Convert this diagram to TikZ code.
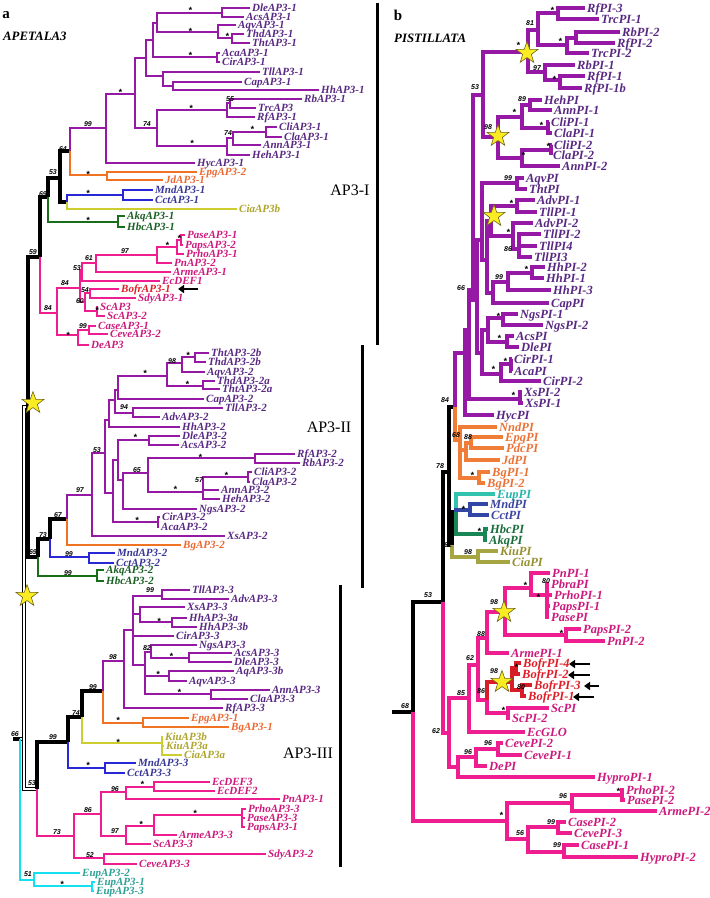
\documentclass[tikz,border=0pt]{standalone}
\usepackage{fontspec}
\setmainfont{Liberation Serif}
\newfontfamily\bsfont{Liberation Sans}
\usetikzlibrary{shapes.geometric,arrows.meta}
\definecolor{cpu}{RGB}{150,25,165}
\definecolor{cpuT}{RGB}{88,40,130}
\definecolor{cor}{RGB}{240,115,35}
\definecolor{corT}{RGB}{235,105,50}
\definecolor{cbl}{RGB}{40,40,215}
\definecolor{cblT}{RGB}{55,55,150}
\definecolor{cye}{RGB}{205,205,45}
\definecolor{cyeT}{RGB}{175,165,45}
\definecolor{cgr}{RGB}{25,110,25}
\definecolor{cgrT}{RGB}{25,95,35}
\definecolor{cpk}{RGB}{238,30,145}
\definecolor{cpkT}{RGB}{205,25,125}
\definecolor{cpkrT}{RGB}{225,30,40}
\definecolor{ccy}{RGB}{20,225,240}
\definecolor{ccyT}{RGB}{45,160,150}
\definecolor{crd}{RGB}{215,30,40}
\definecolor{crdT}{RGB}{225,30,40}
\definecolor{cte}{RGB}{50,195,175}
\definecolor{cteT}{RGB}{40,180,170}
\definecolor{crb}{RGB}{50,70,165}
\definecolor{crbT}{RGB}{60,70,160}
\definecolor{crg}{RGB}{25,135,85}
\definecolor{crgT}{RGB}{25,110,60}
\definecolor{col}{RGB}{165,165,65}
\definecolor{colT}{RGB}{150,145,50}
\definecolor{cro}{RGB}{240,125,55}
\definecolor{croT}{RGB}{235,115,55}
\definecolor{cstar}{RGB}{250,235,35}
\definecolor{cstarO}{RGB}{110,100,20}
\def\lw{2.8pt}\def\lwk{3.4pt}\def\lfs{11}\def\lys{-3.6pt}
\newcommand\lff{\bfseries\itshape\fontsize{\lfs}{\lfs}\selectfont}
\newcommand\Nd[5]{\coordinate (#1) at (#3,-#4); \draw[#5] (#2) |- (#1);}
\newcommand\Lf[6]{\coordinate (#1) at (#3,-#4); \draw[#5] (#2) |- (#1); \node[lab,text=c#5T] (#1t) at (#1) {#6};}
\newcounter{bsc}
\newcommand\bsv[3]{\stepcounter{bsc}\node[bsl] (b\thebsc) at (#1,-#2) {#3};}
\newcommand\stv[2]{\stepcounter{bsc}\node[bsl,yshift=-2pt] (b\thebsc) at (#1,-#2) {\fontsize{9}{9}\selectfont *};}
\begin{document}
\begin{tikzpicture}[x=1pt,y=1pt,
 br/.style={line width=\lw,line join=miter},
 pu/.style={br,draw=cpu}, or/.style={br,draw=cor}, bl/.style={br,draw=cbl},
 ye/.style={br,draw=cye}, gr/.style={br,draw=cgr}, pk/.style={br,draw=cpk},
 pkr/.style={br,draw=cpk}, cy/.style={br,draw=ccy}, rd/.style={br,draw=crd},
 te/.style={br,draw=cte}, rb/.style={br,draw=crb}, rg/.style={br,draw=crg},
 ol/.style={br,draw=col}, ro/.style={br,draw=cro},
 bk/.style={line width=\lwk,draw=black},
 dbl/.style={draw=black,line width=0.9pt,double=white,double distance=1.8pt},
 lab/.style={anchor=base west,inner sep=0pt,xshift=2pt,yshift=\lys,font=\lff},
 bsl/.style={inner sep=0pt,font=\bsfont\bfseries\itshape\fontsize{7}{7}\selectfont},
 strr/.style={star,star points=5,star point ratio=2.5,minimum size=23pt,inner sep=0pt,fill=cstar,draw=cstarO,line width=0.6pt},
 arr/.style={-{Triangle[length=6pt,width=8pt]},line width=2.8pt},
 bar/.style={line width=3pt},
 big/.style={font=\fontsize{16}{16}\selectfont}]
\useasboundingbox (0,0) rectangle (710,-898);
\fill[white] (0,0) rectangle (710,-898);
% ---------------- panel a ----------------
\coordinate (r0) at (13,-739);
\Nd{rt}{r0}{20}{739}{bk}
\Nd{sB}{rt}{24}{739}{dbl}
\Nd{sA}{sB}{28}{407}{dbl}
\Nd{n59}{sA}{40}{257}{bk}
\Nd{n69}{n59}{48}{197}{bk}
\Nd{n53}{n69}{60}{178}{bk}
\Nd{n64}{n53}{70}{151}{bk}
\Nd{n99}{n64}{106}{128}{pu}
\Nd{nSA}{n99}{135}{94}{pu}
\Nd{nU}{nSA}{146}{58}{pu}
\Nd{nV}{nU}{153}{40}{pu}
\Nd{nV1}{nV}{157}{23}{pu}
\Nd{nDA}{nV1}{222}{13}{pu}
\Lf{Dle1}{nDA}{250}{8}{pu}{DleAP3-1}
\Lf{Acs1}{nDA}{244}{17}{pu}{AcsAP3-1}
\Nd{nAq}{nV1}{218}{32}{pu}
\Lf{Aqv1}{nAq}{236}{25}{pu}{AqvAP3-1}
\Nd{nTT}{nAq}{232}{38}{pu}
\Lf{Thd1}{nTT}{244}{34}{pu}{ThdAP3-1}
\Lf{Tht1}{nTT}{250}{43}{pu}{ThtAP3-1}
\Nd{nAC1}{nV}{217}{57}{pu}
\Lf{Aca1}{nAC1}{220}{53}{pu}{AcaAP3-1}
\Lf{Cir1}{nAC1}{220}{62}{pu}{CirAP3-1}
\Nd{nTC}{nU}{163}{76}{pu}
\Lf{Tll1}{nTC}{260}{72}{pu}{TllAP3-1}
\Nd{nCH}{nTC}{173}{86}{pu}
\Lf{Cap1}{nCH}{242}{82}{pu}{CapAP3-1}
\Lf{Hh1}{nCH}{319}{90}{pu}{HhAP3-1}
\Nd{n74a}{nSA}{157}{128}{pu}
\Nd{nRb}{n74a}{227}{110}{pu}
\Nd{n55}{nRb}{230}{103}{pu}
\Lf{Rb1}{n55}{302}{99}{pu}{RbAP3-1}
\Lf{Trc}{n55}{256}{108}{pu}{TrcAP3}
\Lf{Rf1}{nRb}{255}{117}{pu}{RfAP3-1}
\Nd{nCl}{n74a}{227}{146}{pu}
\Nd{nCCA}{nCl}{233}{138}{pu}
\Nd{nCC}{nCCA}{266}{132}{pu}
\Lf{Cli1}{nCC}{277}{127}{pu}{CliAP3-1}
\Lf{Cla1}{nCC}{282}{137}{pu}{ClaAP3-1}
\Lf{Ann1}{nCCA}{261}{145}{pu}{AnnAP3-1}
\Lf{Heh1}{nCl}{250}{155}{pu}{HehAP3-1}
\Lf{Hyc1}{n99}{195}{163}{pu}{HycAP3-1}
\Nd{nEJ}{n64}{107}{175}{or}
\Lf{Epg2}{nEJ}{197}{172}{or}{EpgAP3-2}
\Lf{Jd1}{nEJ}{163}{180}{or}{JdAP3-1}
\Nd{nBY}{n53}{67}{202}{bk}
\Nd{nMC1}{nBY}{123}{195}{bl}
\Lf{Mnd1}{nMC1}{153}{190}{bl}{MndAP3-1}
\Lf{Cct1}{nMC1}{153}{200}{bl}{CctAP3-1}
\Lf{Cia3b}{nBY}{237}{209}{ye}{CiaAP3b}
\Nd{nAH1}{n69}{118}{222}{gr}
\Lf{Akq1}{nAH1}{125}{216}{gr}{AkqAP3-1}
\Lf{Hbc1}{nAH1}{125}{227}{gr}{HbcAP3-1}
\Nd{pR}{n59}{57}{313}{pk}
\Nd{p84}{pR}{80}{288}{pk}
\Nd{p53}{p84}{82}{270}{pk}
\Nd{p61}{p53}{96}{263}{pk}
\Nd{p97}{p61}{157}{255}{pk}
\Nd{pS}{p97}{177}{247}{pk}
\Nd{pPP}{pS}{181}{240}{pk}
\Lf{Pase1}{pPP}{185}{235}{pk}{PaseAP3-1}
\Lf{Paps2}{pPP}{183}{245}{pk}{PapsAP3-2}
\Lf{Prho1}{pS}{184}{254}{pk}{PrhoAP3-1}
\Lf{Pn2}{p97}{172}{263}{pk}{PnAP3-2}
\Lf{Arme1}{p61}{171}{272}{pk}{ArmeAP3-1}
\Lf{EcD1}{p53}{160}{281}{pk}{EcDEF1}
\Nd{p60}{p84}{85}{302}{pk}
\Nd{p54}{p60}{90}{293}{pk}
\Lf{Bofr1}{p54}{119}{289}{pkr}{BofrAP3-1}
\Lf{Sdy1}{p54}{136}{298}{pk}{SdyAP3-1}
\Nd{pSc}{p60}{97}{311}{pk}
\Lf{Sc}{pSc}{98}{307}{pk}{ScAP3}
\Lf{Sc2}{pSc}{105}{316}{pk}{ScAP3-2}
\Nd{pC}{pR}{78}{335}{pk}
\Nd{p99}{pC}{89}{330}{pk}
\Lf{Case1}{p99}{96}{326}{pk}{CaseAP3-1}
\Lf{Ceve2}{p99}{108}{334}{pk}{CeveAP3-2}
\Lf{De}{pC}{89}{345}{pk}{DeAP3}
% AP3-II
\Nd{n69b}{sA}{38}{557}{bk}
\Nd{n73}{n69b}{50}{539}{bk}
\Nd{n67}{n73}{67}{519}{bk}
\Nd{n97}{n67}{92}{495}{pu}
\Nd{n53d}{n97}{105}{453}{pu}
\Nd{nIIb}{n53d}{109}{420}{pu}
\Nd{nIIa}{nIIb}{115}{400}{pu}
\Nd{nCG}{nIIa}{118}{390}{pu}
\Nd{nTh}{nCG}{167}{376}{pu}
\Nd{n98}{nTh}{182}{363}{pu}
\Nd{nThB}{n98}{195}{357}{pu}
\Lf{Tht2b}{nThB}{209}{353}{pu}{ThtAP3-2b}
\Lf{Thd2b}{nThB}{206}{362}{pu}{ThdAP3-2b}
\Lf{Aqv2}{n98}{205}{372}{pu}{AqvAP3-2}
\Nd{nThA}{nTh}{203}{386}{pu}
\Lf{Thd2a}{nThA}{215}{381}{pu}{ThdAP3-2a}
\Lf{Tht2a}{nThA}{220}{389}{pu}{ThtAP3-2a}
\Lf{Cap2}{nCG}{204}{399}{pu}{CapAP3-2}
\Nd{n94}{nIIa}{133}{413}{pu}
\Lf{Tll2}{n94}{223}{408}{pu}{TllAP3-2}
\Lf{Adv2}{n94}{160}{417}{pu}{AdvAP3-2}
\Lf{Hh2}{nIIb}{180}{427}{pu}{HhAP3-2}
\Nd{nLo}{n53d}{113}{493}{pu}
\Nd{nMid}{nLo}{118}{460}{pu}
\Nd{nDA2}{nMid}{149}{440}{pu}
\Lf{Dle2}{nDA2}{180}{436}{pu}{DleAP3-2}
\Lf{Acs2}{nDA2}{179}{445}{pu}{AcsAP3-2}
\Nd{n123}{nMid}{123}{480}{pu}
\Nd{n65}{n123}{148}{473}{pu}
\Nd{nRR}{n65}{255}{458}{pu}
\Lf{Rf2}{nRR}{295}{454}{pu}{RfAP3-2}
\Lf{Rb2}{nRR}{300}{463}{pu}{RbAP3-2}
\Nd{n57}{n65}{203}{492}{pu}
\Nd{nCC2}{n57}{248}{477}{pu}
\Lf{Cli2}{nCC2}{252}{472}{pu}{CliAP3-2}
\Lf{Cla2}{nCC2}{250}{482}{pu}{ClaAP3-2}
\Lf{Ann2}{n57}{219}{490}{pu}{AnnAP3-2}
\Lf{Heh2}{n57}{220}{499}{pu}{HehAP3-2}
\Lf{Ngs2}{n123}{197}{509}{pu}{NgsAP3-2}
\Nd{nCA2}{nLo}{158}{522}{pu}
\Lf{Cir2}{nCA2}{160}{517}{pu}{CirAP3-2}
\Lf{Aca2}{nCA2}{159}{527}{pu}{AcaAP3-2}
\Lf{Xs2}{n97}{225}{536}{pu}{XsAP3-2}
\Lf{Bg2}{n67}{181}{545}{or}{BgAP3-2}
\Nd{nMC2}{n73}{89}{557}{bl}
\Lf{Mnd2}{nMC2}{115}{553}{bl}{MndAP3-2}
\Lf{Cct2}{nMC2}{114}{563}{bl}{CctAP3-2}
\Nd{nAH2}{n69b}{97}{576}{gr}
\Lf{Akq2}{nAH2}{104}{570}{gr}{AkqAP3-2}
\Lf{Hbc2}{nAH2}{104}{581}{gr}{HbcAP3-2}
% AP3-III
\Nd{n53c}{sB}{37}{789}{dbl}
\Nd{n99e}{n53c}{68}{742}{bk}
\Nd{n74}{n99e}{82}{717}{bk}
\Nd{n99d}{n74}{103}{691}{bk}
\Nd{n98c}{n99d}{124}{661}{pu}
\Nd{nA3}{n98c}{133}{630}{pu}
\Nd{n99c}{nA3}{162}{596}{pu}
\Lf{Tll3}{n99c}{190}{590}{pu}{TllAP3-3}
\Lf{Adv3}{n99c}{229}{599}{pu}{AdvAP3-3}
\Nd{nXH}{nA3}{140}{614}{pu}
\Lf{Xs3}{nXH}{185}{607}{pu}{XsAP3-3}
\Nd{nHh3}{nXH}{172}{622}{pu}
\Lf{Hh3a}{nHh3}{187}{618}{pu}{HhAP3-3a}
\Lf{Hh3b}{nHh3}{197}{627}{pu}{HhAP3-3b}
\Lf{Cir3}{nA3}{174}{636}{pu}{CirAP3-3}
\Nd{nD3}{nA3}{145}{665}{pu}
\Nd{n82}{nD3}{151}{652}{pu}
\Lf{Ngs3}{n82}{197}{645}{pu}{NgsAP3-3}
\Nd{nAD3}{n82}{189}{658}{pu}
\Lf{Acs3}{nAD3}{232}{653}{pu}{AcsAP3-3}
\Lf{Dle3}{nAD3}{232}{662}{pu}{DleAP3-3}
\Nd{nAq3}{nD3}{169}{676}{pu}
\Lf{Aq3b}{nAq3}{234}{671}{pu}{AqAP3-3b}
\Lf{Aqv3}{nAq3}{187}{681}{pu}{AqvAP3-3}
\Nd{nAC3}{nD3}{211}{694}{pu}
\Lf{Ann3}{nAC3}{270}{690}{pu}{AnnAP3-3}
\Lf{Cla3}{nAC3}{248}{699}{pu}{ClaAP3-3}
\Lf{Rf3}{n98c}{223}{708}{pu}{RfAP3-3}
\Nd{nEB}{n99d}{143}{723}{or}
\Lf{Epg1}{nEB}{189}{718}{or}{EpgAP3-1}
\Lf{Bg1}{nEB}{229}{727}{or}{BgAP3-1}
\Nd{nKiu}{n74}{162}{743}{ye}
\Lf{Kiu3b}{nKiu}{163}{737}{ye}{KiuAP3b}
\Lf{Kiu3a}{nKiu}{164}{746}{ye}{KiuAP3a}
\Lf{Cia3a}{nKiu}{182}{755}{ye}{CiaAP3a}
\Nd{nMC3}{n99e}{105}{768}{bl}
\Lf{Mnd3}{nMC3}{136}{763}{bl}{MndAP3-3}
\Lf{Cct3}{nMC3}{125}{773}{bl}{CctAP3-3}
\Nd{n73c}{n53c}{74}{836}{pk}
\Nd{n86}{n73c}{101}{814}{pk}
\Nd{n96}{n86}{126}{792}{pk}
\Nd{nEc}{n96}{154}{787}{pk}
\Lf{EcD3}{nEc}{210}{782}{pk}{EcDEF3}
\Lf{EcD2}{nEc}{215}{791}{pk}{EcDEF2}
\Lf{Pn1}{n96}{280}{799}{pk}{PnAP3-1}
\Nd{n97b}{n86}{126}{836}{pk}
\Nd{nSt}{n97b}{154}{826}{pk}
\Nd{nPr}{nSt}{242}{815}{pk}
\Lf{Prho3}{nPr}{246}{809}{pk}{PrhoAP3-3}
\Lf{Pase3}{nPr}{245}{818}{pk}{PaseAP3-3}
\Lf{Paps1}{nPr}{245}{827}{pk}{PapsAP3-1}
\Lf{Arme3}{nSt}{177}{835}{pk}{ArmeAP3-3}
\Lf{Sc3}{n97b}{151}{844}{pk}{ScAP3-3}
\Nd{n52}{n73c}{104}{858}{pk}
\Lf{Sdy2}{n52}{266}{854}{pk}{SdyAP3-2}
\Lf{Ceve3}{n52}{137}{864}{pk}{CeveAP3-3}
\Nd{nE51}{rt}{34}{880}{cy}
\Lf{Eup2}{nE51}{80}{873}{cy}{EupAP3-2}
\Nd{nE13}{nE51}{92}{886}{cy}
\Lf{Eup1}{nE13}{95}{882}{cy}{EupAP3-1}
\Lf{Eup3}{nE13}{94}{891}{cy}{EupAP3-3}
% ---------------- panel b ----------------
\def\lw{3.3pt}\def\lwk{4.2pt}\def\lfs{12.5}\def\lys{-4.1pt}
\coordinate (Rr0) at (392,-712);
\Nd{Rrt}{Rr0}{413}{712}{bk}
\Nd{R53}{Rrt}{443}{602}{bk}
\Nd{R78}{R53}{449}{472}{bk}
\Nd{R84}{R78}{455}{407}{bk}
\Nd{R66}{R84}{465}{353}{pu}
\Nd{RA2}{R66}{469}{330}{pu}
\Nd{RA}{RA2}{473}{290}{pu}
\Nd{R53p}{RA}{483}{95}{pu}
\Nd{RSt}{R53p}{528}{52}{pu}
\Nd{R81}{RSt}{538}{30}{pu}
\Nd{RR1}{R81}{558}{13}{pu}
\Lf{RRf3}{RR1}{585}{8}{pu}{RfPI-3}
\Lf{RTrc1}{RR1}{599}{19}{pu}{TrcPI-1}
\Nd{RR3}{R81}{567}{45}{pu}
\Nd{RR2}{RR3}{576}{38}{pu}
\Lf{RRb2}{RR2}{620}{32}{pu}{RbPI-2}
\Lf{RRf2}{RR2}{615}{43}{pu}{RfPI-2}
\Lf{RTrc2}{RR3}{589}{53}{pu}{TrcPI-2}
\Nd{R97}{RSt}{545}{72}{pu}
\Lf{RRb1}{R97}{575}{65}{pu}{RbPI-1}
\Nd{RR4}{R97}{560}{80}{pu}
\Lf{RRf1}{RR4}{585}{76}{pu}{RfPI-1}
\Lf{RRf1b}{RR4}{582}{88}{pu}{RfPI-1b}
\Nd{RAn}{R53p}{498}{137}{pu}
\Nd{RUp}{RAn}{522}{117}{pu}
\Nd{R89}{RUp}{530}{105}{pu}
\Lf{RHeh}{R89}{542}{100}{pu}{HehPI}
\Lf{RAnn1}{R89}{552}{110}{pu}{AnnPI-1}
\Nd{RC1}{RUp}{548}{128}{pu}
\Lf{RCli1}{RC1}{549}{122}{pu}{CliPI-1}
\Lf{RCla1}{RC1}{552}{133}{pu}{ClaPI-1}
\Nd{RLo}{RAn}{522}{158}{pu}
\Nd{RC2}{RLo}{551}{150}{pu}
\Lf{RCli2}{RC2}{552}{145}{pu}{CliPI-2}
\Lf{RCla2}{RC2}{551}{155}{pu}{ClaPI-2}
\Lf{RAnn2}{RLo}{560}{166}{pu}{AnnPI-2}
\Nd{RC}{RA}{477}{300}{pu}
\Nd{RD}{RC}{482}{240}{pu}
\Nd{R99A}{RD}{517}{183}{pu}
\Lf{RAqv}{R99A}{524}{178}{pu}{AqvPI}
\Lf{RTht}{R99A}{527}{189}{pu}{ThtPI}
\Nd{RF}{RD}{487}{260}{pu}
\Nd{RAdvT}{RF}{491}{221}{pu}
\Nd{RAT1}{RAdvT}{517}{206}{pu}
\Lf{RAdv1}{RAT1}{535}{200}{pu}{AdvPI-1}
\Lf{RTll1}{RAT1}{537}{212}{pu}{TllPI-1}
\Nd{RAd2}{RAdvT}{513}{236}{pu}
\Lf{RAdv2}{RAd2}{533}{223}{pu}{AdvPI-2}
\Nd{R86}{RAd2}{519}{249}{pu}
\Lf{RTll2}{R86}{541}{234}{pu}{TllPI-2}
\Lf{RTll4}{R86}{537}{246}{pu}{TllPI4}
\Lf{RTll3}{R86}{532}{257}{pu}{TllPI3}
\Nd{RHC}{RF}{493}{293}{pu}
\Nd{R99B}{RHC}{508}{282}{pu}
\Nd{RHh12}{R99B}{532}{273}{pu}
\Lf{RHh2}{RHh12}{545}{267}{pu}{HhPI-2}
\Lf{RHh1}{RHh12}{544}{278}{pu}{HhPI-1}
\Lf{RHh3}{R99B}{551}{290}{pu}{HhPI-3}
\Lf{RCap}{RHC}{549}{303}{pu}{CapPI}
\Nd{RG}{RC}{482}{353}{pu}
\Nd{RND}{RG}{488}{330}{pu}
\Nd{RNg}{RND}{503}{318}{pu}
\Lf{RNgs1}{RNg}{518}{314}{pu}{NgsPI-1}
\Lf{RNgs2}{RNg}{543}{325}{pu}{NgsPI-2}
\Nd{RAD}{RND}{507}{342}{pu}
\Lf{RAcs}{RAD}{514}{336}{pu}{AcsPI}
\Lf{RDle}{RAD}{519}{347}{pu}{DlePI}
\Nd{RCir}{RG}{501}{374}{pu}
\Nd{RCA}{RCir}{511}{364}{pu}
\Lf{RCir1}{RCA}{512}{359}{pu}{CirPI-1}
\Lf{RAca}{RCA}{512}{371}{pu}{AcaPI}
\Lf{RCir2}{RCir}{541}{381}{pu}{CirPI-2}
\Nd{RXs}{RA2}{520}{399}{pu}
\Lf{RXs2}{RXs}{522}{392}{pu}{XsPI-2}
\Lf{RXs1}{RXs}{523}{403}{pu}{XsPI-1}
\Lf{RHyc}{R66}{494}{415}{pu}{HycPI}
\Nd{ROr}{R84}{460}{440}{ro}
\Lf{RNnd}{ROr}{497}{427}{ro}{NndPI}
\Nd{R68}{ROr}{466}{450}{ro}
\Nd{R88}{R68}{471}{443}{ro}
\Lf{REpg}{R88}{503}{437}{ro}{EpgPI}
\Lf{RPdc}{R88}{504}{448}{ro}{PdcPI}
\Lf{RJd}{R68}{500}{460}{ro}{JdPI}
\Nd{RBg}{ROr}{479}{478}{ro}
\Lf{RBg1}{RBg}{490}{472}{ro}{BgPI-1}
\Lf{RBg2}{RBg}{485}{483}{ro}{BgPI-2}
\Nd{R62}{R78}{452}{545}{bk}
\Nd{RTBG}{R62}{456}{512}{bk}
\Lf{REup}{RTBG}{495}{494}{te}{EupPI}
\Nd{RMC}{RTBG}{470}{510}{rb}
\Lf{RMnd}{RMC}{488}{504}{rb}{MndPI}
\Lf{RCct}{RMC}{489}{515}{rb}{CctPI}
\Nd{RHA}{RTBG}{485}{534}{rg}
\Lf{RHbc}{RHA}{488}{529}{rg}{HbcPI}
\Lf{RAkq}{RHA}{487}{540}{rg}{AkqPI}
\Nd{RKC}{R62}{478}{557}{ol}
\Lf{RKiu}{RKC}{498}{551}{ol}{KiuPI}
\Lf{RCia}{RKC}{510}{562}{ol}{CiaPI}
\Nd{RP62}{R53}{449}{733}{pk}
\Nd{R85}{RP62}{469}{698}{pk}
\Nd{R62p}{R85}{478}{665}{pk}
\Nd{R88p}{R62p}{487}{638}{pk}
\Nd{R98s}{R88p}{505}{612}{pk}
\Nd{RPn}{R98s}{531}{588}{pk}
\Lf{RPn1}{RPn}{550}{573}{pk}{PnPI-1}
\Nd{RPb}{RPn}{547}{595}{pk}
\Lf{RPbra}{RPb}{549}{584}{pk}{PbraPI}
\Lf{RPrho1}{RPb}{552}{595}{pk}{PrhoPI-1}
\Lf{RPaps1}{RPb}{550}{606}{pk}{PapsPI-1}
\Lf{RPase}{RPb}{549}{617}{pk}{PasePI}
\Nd{RPP2}{R98s}{566}{635}{pk}
\Lf{RPaps2}{RPP2}{581}{629}{pk}{PapsPI-2}
\Lf{RPn2}{RPP2}{605}{641}{pk}{PnPI-2}
\Lf{RArme1}{R88p}{509}{653}{pk}{ArmePI-1}
\Nd{R86p}{R62p}{487}{700}{pk}
\Nd{RBof}{R86p}{512}{682}{rd}
\Nd{RB42}{RBof}{516}{668}{rd}
\Lf{RBofr4}{RB42}{521}{663}{rd}{BofrPI-4}
\Lf{RBofr2}{RB42}{520}{674}{rd}{BofrPI-2}
\Nd{RB31}{RBof}{522}{690}{rd}
\Lf{RBofr3}{RB31}{532}{685}{rd}{BofrPI-3}
\Lf{RBofr1}{RB31}{526}{696}{rd}{BofrPI-1}
\Nd{RSc}{R86p}{508}{713}{pk}
\Lf{RScPI}{RSc}{549}{708}{pk}{ScPI}
\Lf{RSc2}{RSc}{510}{718}{pk}{ScPI-2}
\Lf{REc}{R85}{525}{732}{pk}{EcGLO}
\Nd{RCev}{RP62}{458}{767}{pk}
\Nd{R96b}{RCev}{476}{757}{pk}
\Nd{R96a}{R96b}{498}{749}{pk}
\Lf{RCeve2}{R96a}{503}{743}{pk}{CevePI-2}
\Lf{RCeve1}{R96a}{522}{755}{pk}{CevePI-1}
\Lf{RDe}{R96b}{487}{766}{pk}{DePI}
\Lf{RHy1}{RCev}{595}{777}{pk}{HyproPI-1}
\Nd{RSB}{Rrt}{507}{821}{pk}
\Nd{R96c}{RSB}{572}{803}{pk}
\Nd{RPP}{R96c}{622}{795}{pk}
\Lf{RPrho2}{RPP}{624}{790}{pk}{PrhoPI-2}
\Lf{RPase2}{RPP}{625}{800}{pk}{PasePI-2}
\Lf{RArme2}{R96c}{657}{811}{pk}{ArmePI-2}
\Nd{R56}{RSB}{528}{839}{pk}
\Nd{R99a}{R56}{558}{827}{pk}
\Lf{RCase2}{R99a}{566}{822}{pk}{CasePI-2}
\Lf{RCeve3}{R99a}{572}{833}{pk}{CevePI-3}
\Nd{R99b}{R56}{564}{852}{pk}
\Lf{RCase1}{R99b}{579}{845}{pk}{CasePI-1}
\Lf{RHy2}{R99b}{638}{857}{pk}{HyproPI-2}
% ---------------- stars ----------------
\node[strr] (s1) at (33,-403) {};
\node[strr] (s2) at (27,-596) {};
\node[strr] (s3) at (527,-53) {};
\node[strr] (s4) at (498,-136) {};
\node[strr] (s5) at (494,-216) {};
\node[strr] (s6) at (504,-612) {};
\node[strr] (s7) at (502,-682) {};
% ---------------- arrows ----------------
\coordinate (a0s) at (198,-289); \coordinate (a0e) at (178,-289);
\coordinate (a1s) at (590,-664); \coordinate (a1e) at (569,-664);
\coordinate (a2s) at (590,-675); \coordinate (a2e) at (568,-675);
\coordinate (a3s) at (599,-686); \coordinate (a3e) at (584,-686);
\coordinate (a4s) at (594,-697); \coordinate (a4e) at (573,-697);
\draw[arr] (a0s) -- (a0e);
\draw[arr] (a1s) -- (a1e);
\draw[arr] (a2s) -- (a2e);
\draw[arr] (a3s) -- (a3e);
\draw[arr] (a4s) -- (a4e);
% ---------------- bars and group labels ----------------
\coordinate (k1a) at (377,-3); \coordinate (k1b) at (377,-345);
\coordinate (k2a) at (362,-345); \coordinate (k2b) at (362,-588);
\coordinate (k3a) at (340,-585); \coordinate (k3b) at (340,-867);
\draw[bar] (k1a) -- (k1b);
\draw[bar] (k2a) -- (k2b);
\draw[bar] (k3a) -- (k3b);
\node[big] (g1) at (350,-190) {AP3-I};
\node[big] (g2) at (329,-427) {AP3-II};
\node[big] (g3) at (308,-753) {AP3-III};
\node[font=\bfseries\fontsize{15}{15}\selectfont,inner sep=0pt] (pa) at (6,-15) {a};
\node[font=\bfseries\fontsize{15}{15}\selectfont,inner sep=0pt] (pb) at (398,-15) {b};
\node[anchor=west,inner sep=0pt,font=\bfseries\itshape\fontsize{12.8}{12.8}\selectfont] (ta) at (3,-36) {APETALA3};
\node[anchor=west,inner sep=0pt,font=\bfseries\itshape\fontsize{12.8}{12.8}\selectfont] (tb) at (394,-38) {PISTILLATA};
% ---------------- support values, panel a ----------------
\stv{190}{8} \stv{190}{29} \stv{227}{34} \stv{190}{53} \stv{120}{90} \bsv{230}{99}{55} \stv{191}{106} \bsv{88}{124}{99} \bsv{147}{124}{74} \stv{252}{127} \bsv{228}{133}{74} \stv{192}{141} \bsv{63}{149}{64}
\stv{88}{172} \bsv{53}{172}{53} \stv{88}{191} \bsv{43}{194}{69} \stv{88}{218} \stv{179}{236} \stv{167}{243} \bsv{125}{251}{97} \bsv{33}{252}{59} \bsv{89}{258}{61} \bsv{77}{268}{53} \bsv{65}{283}{84} \bsv{85}{290}{54}
\bsv{80}{301}{60} \stv{97}{308} \bsv{48}{308}{84} \bsv{83}{326}{99} \stv{68}{333} \stv{188}{353} \bsv{172}{361}{98} \stv{145}{371} \stv{187}{382} \bsv{124}{407}{94} \stv{135}{435} \bsv{97}{450}{53}
\stv{200}{455} \bsv{137}{470}{65} \stv{226}{473} \bsv{199}{480}{57} \stv{175}{487} \bsv{80}{490}{97} \stv{137}{518} \bsv{58}{515}{67} \bsv{43}{535}{73} \bsv{69}{554}{99} \bsv{33}{552}{69} \bsv{68}{573}{99} \bsv{150}{590}{99}
\stv{159}{619} \bsv{147}{648}{82} \stv{171}{654} \bsv{113}{657}{98} \stv{158}{672} \stv{179}{690} \bsv{93}{687}{99} \bsv{76}{713}{74} \stv{118}{718} \bsv{15}{734}{66} \bsv{53}{737}{99} \stv{118}{740}
\stv{88}{763} \bsv{32}{783}{53} \stv{142}{782} \bsv{115}{789}{96} \bsv{88}{810}{86} \stv{195}{811} \stv{141}{822} \bsv{115}{831}{97} \bsv{57}{832}{73} \bsv{90}{855}{52} \bsv{28}{874}{51} \stv{62}{882}
% ---------------- support values, panel b ----------------
\stv{552}{8} \bsv{530}{23}{81} \stv{518}{43} \stv{560}{39} \bsv{537}{68}{97} \stv{554}{77} \bsv{475}{87}{53} \bsv{522}{99}{89} \stv{514}{110} \stv{541}{123} \bsv{488}{127}{98} \stv{548}{144}
\stv{523}{153} \bsv{508}{178}{99} \stv{511}{201} \stv{508}{230} \bsv{508}{249}{86} \stv{526}{267} \bsv{499}{277}{99} \bsv{461}{288}{66}
\stv{498}{314} \stv{499}{336} \stv{505}{359} \stv{493}{367} \stv{513}{393} \bsv{445}{400}{84} \bsv{456}{435}{68} \bsv{468}{437}{88}
\bsv{440}{466}{78} \stv{472}{473} \stv{463}{507} \stv{479}{529} \bsv{448}{545}{62} \bsv{468}{552}{98} \stv{525}{583} \bsv{546}{581}{80} \stv{538}{595} \bsv{428}{595}{53}
\bsv{494}{602}{98} \stv{561}{631} \bsv{481}{634}{88} \bsv{470}{658}{62} \stv{516}{665} \bsv{494}{671}{98} \bsv{521}{687}{80} \bsv{481}{691}{86} \bsv{461}{693}{85} \bsv{405}{706}{68} \stv{503}{708} \bsv{436}{731}{62} \bsv{488}{743}{96} \bsv{468}{752}{96}
\stv{618}{789} \bsv{563}{796}{96} \stv{501}{813} \bsv{551}{822}{99} \bsv{520}{833}{56} \bsv{557}{845}{99}
\end{tikzpicture}
\end{document}
